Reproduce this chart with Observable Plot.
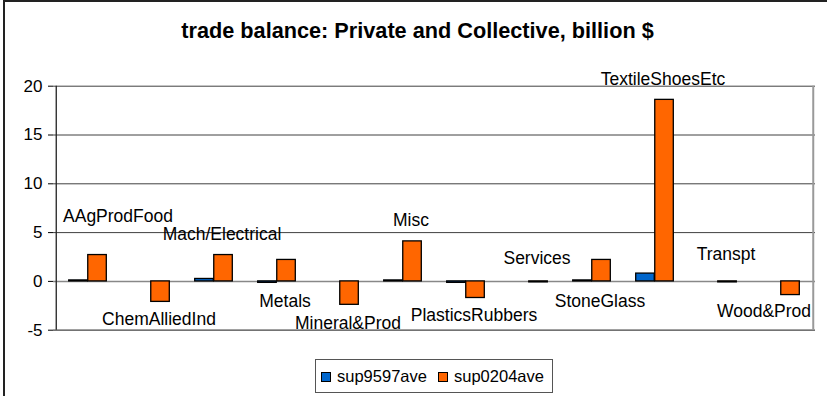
<!DOCTYPE html>
<html>
<head>
<meta charset="utf-8">
<script src="https://cdn.jsdelivr.net/npm/d3@7"></script>
<script src="https://cdn.jsdelivr.net/npm/@observablehq/plot@0.6"></script>
<style>
  html, body { margin: 0; padding: 0; background: #fff; }
  #chart { position: relative; width: 827px; height: 396px; overflow: hidden; font-family: "Liberation Sans", Arial, sans-serif; background: #fff; }
  #frame { position: absolute; left: 3px; top: 0px; right: -4px; bottom: -4px; border-left: 2px solid #222; border-top: 2px solid #222; }
  #title { position: absolute; left: 0; top: 19px; width: 835px; text-align: center; font-weight: bold; font-size: 21.7px; line-height: 24px; color: #000; }
  #plot { position: absolute; left: 0; top: 62px; }
  #legend { position: absolute; left: 315px; top: 359px; width: 238px; height: 34px; box-sizing: border-box; border: 1px solid #555; font-size: 16.5px; color: #000; }
  .item { position: absolute; top: 6px; line-height: 20px; white-space: nowrap; }
  .sw { display: inline-block; width: 8px; height: 8px; border: 1px solid #000; margin-right: 6px; vertical-align: 0px; }
</style>
</head>
<body>
<div id="chart">
  <div id="frame"></div>
  <div id="title">trade balance: Private and Collective, billion $</div>
  <div id="plot"></div>
  <div id="legend"></div>
</div>
<script>
const categories = ["AAgProdFood", "ChemAlliedInd", "Mach/Electrical", "Metals", "Mineral&Prod", "Misc",
  "PlasticsRubbers", "Services", "StoneGlass", "TextileShoesEtc", "Transpt", "Wood&Prod"];
const sup9597ave = [0.1, 0, 0.25, -0.15, 0, 0.1, -0.15, 0, 0.1, 0.8, 0, 0];
const sup0204ave = [2.7, -2.1, 2.7, 2.2, -2.4, 4.1, -1.7, -0.1, 2.2, 18.6, -0.1, -1.4];
const labelAt = [6.7, -3.9, 4.8, -2.0, -4.3, 6.2, -3.5, 2.4, -2.0, 20.7, 2.8, -3.1];
const seriesNames = ["sup9597ave", "sup0204ave"];
const seriesColors = ["#0066CC", "#FF6600"];
const yTicks = [-5, 0, 5, 10, 15, 20];

const blue = categories.map((c, i) => ({cat: c, v: sup9597ave[i]}));
const orange = categories.map((c, i) => ({cat: c, v: sup0204ave[i]}));
const labels = categories.map((c, i) => ({cat: c, y: labelAt[i]}));

const W = 827, H = 290;
const mL = 53, mR = 12;
const band = (W - mL - mR) / categories.length;
const barW = band * 0.3;
const outer = (band - 2 * barW) / 2;

const shift = {"AAgProdFood": 30, "Wood&Prod": -17};
const txt = {fontSize: 17.5, fill: "#000", textAnchor: "middle", lineAnchor: "middle", fontFamily: "Liberation Sans, Arial, sans-serif"};

const svg = Plot.plot({
  width: W, height: H,
  marginLeft: mL, marginRight: mR, marginTop: 23.7, marginBottom: 22.3,
  style: {fontFamily: "Liberation Sans, Arial, sans-serif", fontSize: "17px", color: "#000", background: "transparent"},
  x: {domain: categories, padding: 0, axis: null},
  y: {domain: [-5, 20], ticks: yTicks, tickSize: 5, tickPadding: 6, tickFormat: d => String(d), label: null},
  marks: [
    Plot.ruleY([5, 10, 15, 20], {stroke: "#000", strokeWidth: 1, strokeOpacity: 0.75}),
    Plot.ruleY([-5], {stroke: "#444", strokeWidth: 1.2}),
    Plot.ruleY([0], {stroke: "#888", strokeWidth: 1.5}),
    Plot.ruleX([categories[categories.length - 1]], {x: d => d, dx: band / 2 + 0.5, stroke: "#999", strokeWidth: 2}),
    Plot.barY(blue, {x: "cat", y: "v", fill: seriesColors[0], stroke: "#000", strokeWidth: 1.3, insetLeft: outer, insetRight: outer + barW}),
    Plot.barY(orange, {x: "cat", y: "v", fill: seriesColors[1], stroke: "#000", strokeWidth: 1.3, insetLeft: outer + barW, insetRight: outer}),
    Plot.axisY({ticks: yTicks, tickSize: 5, tickPadding: 6, tickFormat: d => String(d), stroke: "#000", fontSize: 17}),
    Plot.ruleX([0], {x: () => categories[0], dx: -band / 2, y1: -5, y2: 20, stroke: "#222", strokeWidth: 1.3}),
    Plot.text(labels.filter(d => !(d.cat in shift)), {x: "cat", y: "y", text: "cat", dx: 8, ...txt}),
    Plot.text(labels.filter(d => d.cat === "AAgProdFood"), {x: "cat", y: "y", text: "cat", dx: shift["AAgProdFood"], ...txt}),
    Plot.text(labels.filter(d => d.cat === "Wood&Prod"), {x: "cat", y: "y", text: "cat", dx: shift["Wood&Prod"], ...txt})
  ]
});
svg.style.overflow = "visible";
document.getElementById("plot").appendChild(svg);

const legend = document.getElementById("legend");
const lefts = [5, 122];
seriesNames.forEach((name, i) => {
  const it = document.createElement("div");
  it.className = "item";
  it.style.left = lefts[i] + "px";
  it.innerHTML = `<span class="sw" style="background:${seriesColors[i]}"></span>${name}`;
  legend.appendChild(it);
});
</script>
</body>
</html>
